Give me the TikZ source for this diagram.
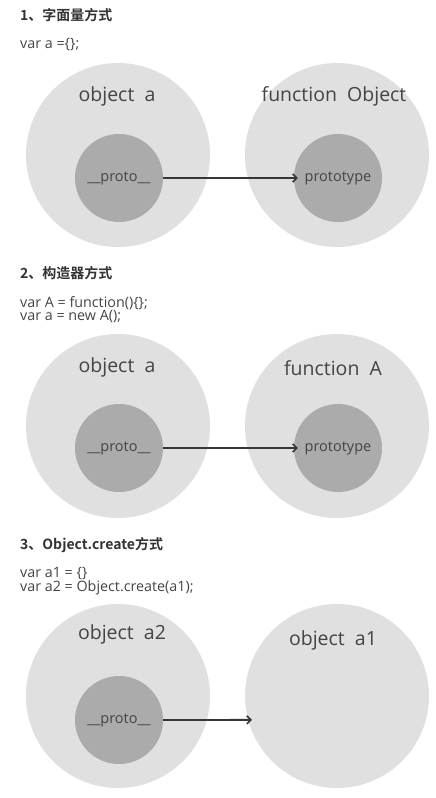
\documentclass[tikz,border=0pt]{standalone}
\usepackage{fontspec}
\setmainfont{Open Sans}
\newfontfamily\cjkb[BoldFont={Noto Sans CJK SC Bold}]{Noto Sans CJK SC}
\usetikzlibrary{arrows.meta}
\definecolor{bigc}{HTML}{E0E0E0}
\definecolor{smallc}{HTML}{ABABAB}
\definecolor{txt}{HTML}{444444}
\definecolor{arr}{HTML}{363636}
\tikzset{
  bigcircle/.style={circle, fill=bigc, draw=none, minimum size=184pt, inner sep=0pt},
  smallcircle/.style={circle, fill=smallc, draw=none, minimum size=88pt, inner sep=0pt, font=\fontsize{14.5}{16}\selectfont, text=txt},
  biglabel/.style={font=\fontsize{19.5}{22}\selectfont, text=txt, inner sep=0pt},
  title/.style={anchor=west, font=\cjkb\bfseries\fontsize{14}{16}\selectfont, text=black!80, inner sep=0pt},
  code/.style={anchor=base west, font=\fontsize{14.3}{15}\selectfont, text=txt, inner sep=0pt},
  link/.style={draw=arr, line width=1.8pt, -{Straight Barb[length=4pt,width=8pt,line width=1.6pt]}}
}
\begin{document}
\begin{tikzpicture}[x=1pt,y=-1pt]
\useasboundingbox[fill=white] (0,0) rectangle (436,798);
% section 1
\node[title] (t1) at (20,15) {1、字面量方式};
\node[code] (c1) at (20,48) {var a =\{\};};
\node[bigcircle] (A1) at (118,155) {};
\node[bigcircle] (B1) at (337,155) {};
\node[biglabel] (A1l) at (117,96) {object\ \ a};
\node[biglabel] (B1l) at (334,96) {function\ \ Object};
\node[smallcircle] (a1p) at (119,178) {\_\_proto\_\_};
\node[smallcircle] (b1p) at (338,178) {prototype};
\draw[link, shorten >=-4pt] (a1p.east) -- (b1p.west);
% section 2
\node[title] (t2) at (20,273) {2、构造器方式};
\node[code] (c2a) at (20,307) {var A = function()\{\};};
\node[code] (c2b) at (20,320.5) {var a = new A();};
\node[bigcircle] (A2) at (118,426) {};
\node[bigcircle] (B2) at (337,426) {};
\node[biglabel] (A2l) at (117,367) {object\ \ a};
\node[biglabel] (B2l) at (333,368) {function\ \ A};
\node[smallcircle] (a2p) at (119,448) {\_\_proto\_\_};
\node[smallcircle] (b2p) at (338,448) {prototype};
\draw[link, shorten >=-4pt] (a2p.east) -- (b2p.west);
% section 3
\node[title] (t3) at (20,545) {3、Object.create方式};
\node[code] (c3a) at (20,577.5) {var a1 = \{\}};
\node[code] (c3b) at (20,591) {var a2 = Object.create(a1);};
\node[bigcircle] (A3) at (118,696) {};
\node[bigcircle] (B3) at (337,696) {};
\node[biglabel] (A3l) at (122,634) {object\ \ a2};
\node[biglabel] (B3l) at (333,640) {object\ \ a1};
\node[smallcircle] (a3p) at (119,720) {\_\_proto\_\_};
\draw[link, shorten >=-4pt] (a3p.east) -- (B3.195);
\end{tikzpicture}
\end{document}
